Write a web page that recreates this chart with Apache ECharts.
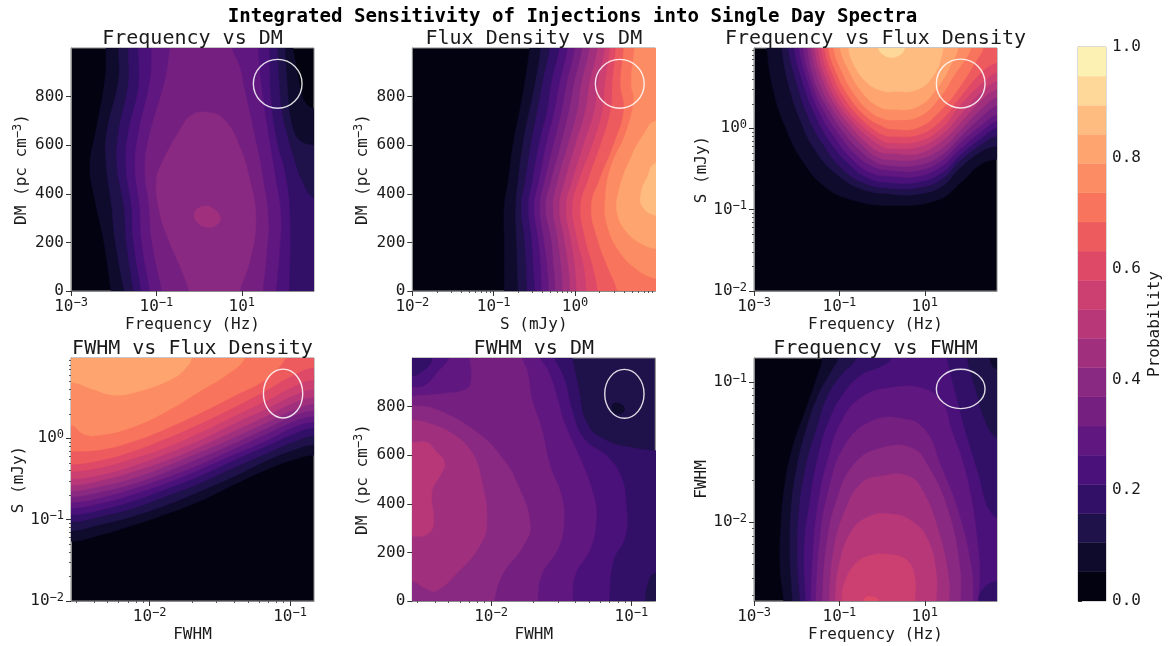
<!DOCTYPE html>
<html>
<head>
<meta charset="utf-8">
<title>Integrated Sensitivity</title>
<script src="https://cdn.jsdelivr.net/npm/echarts@6/dist/echarts.min.js"></script>
<style>
html,body{margin:0;padding:0;background:#fff}
#main{width:1172px;height:646px}
</style>
</head>
<body>
<div id="main"></div>
<script>
// contourf bands, 19 levels between 0 and 1
var bandEdges = [0,0.0526,0.1053,0.1579,0.2105,0.2632,0.3158,0.3684,0.4211,0.4737,0.5263,0.5789,0.6316,0.6842,0.7368,0.7895,0.8421,0.8947,0.9474,1];
var bandColors = ['#030211','#0f0b2c','#1f1149','#331067','#4b117a','#60177f','#752081','#8a2981','#a0307e','#b73779','#cc3f71','#df4968','#ee5b5e','#f8745c','#fc8c63','#fea46f','#febc80','#fed899','#fcf0b2'];
var barTicks = [0,0.2,0.4,0.6,0.8,1];

// tick positions
var freqTicks = [0.001,0.1,10];
var fluxTicks = [0.01,0.1,1];
var fwhmTicks = [0.01,0.1];
var dmTicks = [0,200,400,600,800];
var fluxMinor = [0.02,0.03,0.04,0.05,0.06,0.07,0.08,0.09,0.2,0.3,0.4,0.5,0.6,0.7,0.8,0.9,2,3,4,5,6,7,8,9];
var fwhmMinor = [0.003,0.004,0.005,0.006,0.007,0.008,0.009,0.02,0.03,0.04,0.05,0.06,0.07,0.08,0.09];

// injection ellipse limits, log10 for the log axes
var freqEll = [1.27,2.41];
var fluxEll = [0.25,0.85];
var fwhmEll = [-1.19,-0.91];
var dmEll = [752,953];

// Frequency vs DM: [band, [[log10 Hz, DM], ...]]
var freqDm = [
 [1,[[-2.18,1060],[-2.18,1000],[-2.20,881],[-2.40,675],[-2.56,511],[-2.44,374],[-2.24,210],[-2.06,0],[-2.0,-60],[3.2,-60],[3.2,745],[2.69,751],[2.51,771],[2.40,812],[2.28,922],[2.20,1000],[2.17,1060]]],
 [2,[[-1.89,1060],[-1.89,1000],[-1.89,867],[-2.17,648],[-2.18,525],[-2.05,347],[-1.97,210],[-1.76,0],[-1.7,-60],[3.2,-60],[3.2,600],[2.69,600],[2.40,614],[2.24,648],[2.12,730],[2.09,785],[2.01,1000],[2.0,1060]]],
 [3,[[-1.66,1060],[-1.66,1000],[-1.66,854],[-1.89,648],[-1.92,511],[-1.76,347],[-1.71,210],[-1.54,0],[-1.5,-60],[3.2,-60],[3.2,370],[2.69,381],[2.40,456],[2.28,511],[2.05,648],[1.93,744],[1.88,840],[1.83,1000],[1.82,1060]]],
 [4,[[-1.42,1060],[-1.42,1000],[-1.42,840],[-1.66,648],[-1.71,511],[-1.58,347],[-1.54,210],[-1.35,0],[-1.3,-60],[2.11,-60],[2.11,0],[2.12,319],[2.01,484],[1.81,621],[1.67,812],[1.64,1000],[1.63,1060]]],
 [5,[[-1.11,1060],[-1.11,1000],[-1.15,867],[-1.42,648],[-1.50,511],[-1.39,347],[-1.35,210],[-1.15,0],[-1.1,-60],[1.76,-60],[1.80,0],[1.88,155],[1.91,319],[1.77,484],[1.62,648],[1.46,840],[1.38,1000],[1.35,1060]]],
 [6,[[-0.64,1060],[-0.68,1000],[-0.80,867],[-1.15,648],[-1.27,511],[-1.17,347],[-1.11,210],[-0.87,0],[-0.8,-60],[1.45,-60],[1.49,0],[1.58,155],[1.62,292],[1.50,456],[1.34,607],[1.05,840],[0.95,922],[0.76,1000],[0.7,1060]]],
 [7,[[0.17,736],[-0.18,723],[-0.45,662],[-0.84,538],[-1.00,456],[-0.92,319],[-0.68,196],[-0.41,86],[-0.23,0],[-0.15,-60],[0.9,-60],[0.95,0],[1.19,127],[1.33,292],[1.19,456],[0.92,607],[0.56,710]]],
 [8,[[0.10,349],[-0.10,326],[-0.06,285],[0.21,262],[0.45,278],[0.49,305],[0.33,340]]]
];

// Flux Density vs DM: one log10 S edge per level, read at each dmStops value
var dmStops = [1000,854,744,607,456,347,210,100,0];
var fluxDmEdges = [
 [1,[-0.56,-0.62,-0.68,-0.76,-0.82,-0.87,-0.87,-0.87,-0.87]],
 [2,[-0.42,-0.49,-0.56,-0.64,-0.70,-0.73,-0.72,-0.71,-0.70]],
 [3,[-0.31,-0.40,-0.46,-0.54,-0.61,-0.66,-0.62,-0.60,-0.59]],
 [4,[-0.19,-0.29,-0.34,-0.44,-0.52,-0.57,-0.53,-0.51,-0.49]],
 [5,[-0.09,-0.19,-0.25,-0.35,-0.44,-0.50,-0.45,-0.42,-0.41]],
 [6,[0.00,-0.10,-0.16,-0.26,-0.37,-0.43,-0.38,-0.34,-0.32]],
 [7,[0.09,-0.01,-0.07,-0.17,-0.29,-0.36,-0.29,-0.26,-0.24]],
 [8,[0.18,0.08,0.03,-0.08,-0.21,-0.27,-0.21,-0.17,-0.15]],
 [9,[0.28,0.18,0.13,0.01,-0.12,-0.19,-0.13,-0.08,-0.06]],
 [10,[0.37,0.28,0.24,0.11,-0.03,-0.11,-0.05,0.00,0.02]],
 [11,[0.43,0.37,0.34,0.22,0.05,-0.03,0.03,0.11,0.14]],
 [12,[0.50,0.46,0.44,0.32,0.16,0.07,0.13,0.22,0.28]],
 [13,[0.60,0.56,0.60,0.48,0.30,0.20,0.28,0.40,0.52]]
];
var fluxDmTop = [
 [14,[[0.74,1060],[0.73,1000],[0.69,854],[0.72,785],[0.62,648],[0.44,511],[0.37,374],[0.40,264],[0.56,155],[0.77,86],[0.98,52],[1.3,40],[1.4,1060]]],
 [15,[[1.3,705],[0.98,699],[0.85,648],[0.69,552],[0.54,415],[0.52,319],[0.65,237],[0.85,189],[0.98,175],[1.3,165]]],
 [16,[[1.3,540],[0.98,525],[0.89,470],[0.81,401],[0.83,347],[0.98,312],[1.3,300]]]
];

// Frequency vs Flux Density: [band, [[log10 Hz, log10 S], ...]]
var freqFlux = [
 [1,[[-2.72,1.3],[-2.70,0.99],[-2.55,0.47],[-2.27,0.02],[-1.88,-0.39],[-1.34,-0.72],[-0.71,-0.88],[0.22,-0.95],[1.31,-0.88],[1.86,-0.66],[2.29,-0.45],[2.69,-0.38],[3.2,-0.36],[3.2,1.3]]],
 [2,[[-2.37,1.3],[-2.35,0.99],[-2.20,0.55],[-1.92,0.10],[-1.57,-0.27],[-1.10,-0.55],[-0.48,-0.75],[0.22,-0.81],[0.85,-0.81],[1.39,-0.72],[1.82,-0.49],[2.37,-0.27],[2.69,-0.22],[3.2,-0.2],[3.2,1.3]]],
 [3,[[-2.22,1.3],[-2.20,0.99],[-2.00,0.55],[-1.73,0.14],[-1.38,-0.20],[-0.95,-0.49],[-0.40,-0.68],[0.22,-0.74],[0.85,-0.73],[1.39,-0.63],[1.82,-0.40],[2.37,-0.18],[2.69,-0.09],[3.2,-0.05],[3.2,1.3]]],
 [4,[[-2.08,1.3],[-2.06,0.99],[-1.85,0.55],[-1.59,0.19],[-1.25,-0.14],[-0.79,-0.43],[-0.33,-0.61],[0.22,-0.67],[0.85,-0.66],[1.39,-0.55],[1.82,-0.33],[2.37,-0.10],[2.69,0.01],[3.2,0.05],[3.2,1.3]]],
 [5,[[-1.97,1.3],[-1.95,0.99],[-1.73,0.55],[-1.48,0.21],[-1.13,-0.10],[-0.68,-0.39],[-0.25,-0.55],[0.22,-0.59],[0.85,-0.59],[1.39,-0.47],[1.82,-0.26],[2.37,-0.02],[2.69,0.09],[3.2,0.14],[3.2,1.3]]],
 [6,[[-1.87,1.3],[-1.85,0.99],[-1.64,0.55],[-1.38,0.23],[-1.03,-0.06],[-0.60,-0.33],[-0.17,-0.48],[0.22,-0.52],[0.85,-0.52],[1.39,-0.40],[1.82,-0.18],[2.37,0.06],[2.69,0.17],[3.2,0.22],[3.2,1.3]]],
 [7,[[-1.77,1.3],[-1.75,0.99],[-1.56,0.55],[-1.28,0.25],[-0.93,-0.03],[-0.52,-0.27],[-0.13,-0.42],[0.22,-0.46],[0.85,-0.45],[1.39,-0.33],[1.82,-0.11],[2.37,0.16],[2.69,0.28],[3.2,0.34],[3.2,1.3]]],
 [8,[[-1.69,1.3],[-1.67,0.99],[-1.47,0.57],[-1.20,0.27],[-0.83,0.00],[-0.44,-0.22],[-0.09,-0.36],[0.22,-0.39],[0.85,-0.38],[1.39,-0.25],[1.82,-0.03],[2.37,0.26],[2.69,0.38],[3.2,0.45],[3.2,1.3]]],
 [9,[[-1.61,1.3],[-1.59,0.99],[-1.39,0.60],[-1.10,0.29],[-0.74,0.03],[-0.36,-0.18],[-0.05,-0.29],[0.22,-0.31],[0.85,-0.31],[1.39,-0.16],[1.82,0.06],[2.37,0.37],[2.69,0.48],[3.2,0.55],[3.2,1.3]]],
 [10,[[-1.53,1.3],[-1.51,0.99],[-1.32,0.62],[-1.03,0.31],[-0.66,0.06],[-0.29,-0.12],[-0.01,-0.22],[0.22,-0.25],[0.85,-0.23],[1.39,-0.08],[1.82,0.16],[2.37,0.47],[2.69,0.58],[3.2,0.65],[3.2,1.3]]],
 [11,[[-1.45,1.3],[-1.43,0.99],[-1.24,0.64],[-0.95,0.33],[-0.57,0.08],[-0.21,-0.08],[0.03,-0.16],[0.22,-0.18],[0.85,-0.16],[1.39,0.00],[1.82,0.28],[2.37,0.57],[2.69,0.69],[3.2,0.76],[3.2,1.3]]],
 [12,[[-1.37,1.3],[-1.35,0.99],[-1.16,0.66],[-0.86,0.35],[-0.48,0.11],[-0.13,-0.04],[0.07,-0.09],[0.22,-0.10],[0.85,-0.08],[1.39,0.10],[1.82,0.38],[2.37,0.71],[2.69,0.81],[3.2,0.88],[3.2,1.3]]],
 [13,[[-1.28,1.3],[-1.26,0.99],[-1.07,0.68],[-0.75,0.37],[-0.36,0.14],[-0.01,0.03],[0.22,-0.01],[0.85,0.01],[1.39,0.23],[1.82,0.51],[2.17,0.80],[2.37,0.99],[2.42,1.3]]],
 [14,[[-1.16,1.3],[-1.14,0.99],[-0.95,0.70],[-0.64,0.41],[-0.25,0.19],[0.07,0.11],[0.22,0.10],[0.85,0.14],[1.31,0.35],[1.70,0.66],[2.09,0.99],[2.15,1.3]]],
 [15,[[-1.01,1.3],[-0.99,0.99],[-0.79,0.72],[-0.48,0.45],[-0.13,0.28],[0.22,0.23],[0.85,0.27],[1.31,0.51],[1.63,0.80],[1.78,0.99],[1.82,1.3]]],
 [16,[[-0.81,1.3],[-0.79,0.99],[-0.64,0.76],[-0.33,0.55],[-0.01,0.46],[0.22,0.45],[0.85,0.48],[1.24,0.68],[1.39,0.88],[1.43,0.99],[1.44,1.3]]],
 [17,[[-0.09,1.1],[-0.09,0.99],[-0.01,0.92],[0.22,0.87],[0.46,0.92],[0.53,0.99],[0.53,1.1]]]
];

// FWHM vs Flux Density: one log10 S edge per level at each fwhmStops value
var fwhmStops = [-2.56,-2.35,-2.12,-1.88,-1.64,-1.40,-1.16,-0.97,-0.83];
var fwhmFluxEdges = [
 [1,[-1.27,-1.19,-1.07,-0.93,-0.77,-0.57,-0.38,-0.26,-0.21]],
 [2,[-1.14,-1.06,-0.96,-0.82,-0.65,-0.47,-0.27,-0.14,-0.08]],
 [3,[-1.03,-0.96,-0.86,-0.71,-0.55,-0.36,-0.18,-0.04,0.03]],
 [4,[-0.94,-0.88,-0.77,-0.62,-0.46,-0.27,-0.09,0.06,0.13]],
 [5,[-0.86,-0.80,-0.69,-0.55,-0.38,-0.20,-0.02,0.14,0.20]],
 [6,[-0.79,-0.73,-0.62,-0.48,-0.32,-0.13,0.06,0.21,0.27]],
 [7,[-0.72,-0.66,-0.56,-0.41,-0.24,-0.06,0.13,0.28,0.34]],
 [8,[-0.65,-0.59,-0.49,-0.34,-0.17,0.01,0.20,0.35,0.42]],
 [9,[-0.58,-0.52,-0.41,-0.27,-0.10,0.09,0.28,0.44,0.50]],
 [10,[-0.50,-0.45,-0.34,-0.19,-0.02,0.18,0.37,0.53,0.60]],
 [11,[-0.41,-0.36,-0.25,-0.11,0.07,0.27,0.47,0.64,0.72]],
 [12,[-0.32,-0.27,-0.16,0.00,0.18,0.38,0.60,0.78,0.87]]
];
var fwhmFluxTop = [
 [13,[[-3,-0.16],[-2.56,-0.16],[-2.35,-0.14],[-2.12,-0.04],[-1.88,0.12],[-1.64,0.31],[-1.40,0.52],[-1.16,0.74],[-1.03,0.99],[-0.95,1.3],[-3,1.3]]],
 [14,[[-3,0.2],[-2.56,0.16],[-2.47,0.05],[-2.35,0.04],[-2.12,0.14],[-1.88,0.33],[-1.64,0.58],[-1.45,0.78],[-1.32,0.99],[-1.28,1.3],[-3,1.3]]],
 [15,[[-3,0.72],[-2.56,0.69],[-2.40,0.60],[-2.25,0.53],[-2.07,0.58],[-1.83,0.74],[-1.74,0.87],[-1.70,0.99],[-1.68,1.3],[-3,1.3]]]
];

// FWHM vs DM: [band, [[log10 FWHM, DM], ...]]
var fwhmDm = [
 [3,[[-1.44,1060],[-1.42,1000],[-1.38,889],[-1.31,725],[-1.16,656],[-0.97,629],[-0.83,619],[-0.5,610],[-0.5,-60],[-3,-60],[-3,1060]]],
 [4,[[-1.57,1060],[-1.55,1000],[-1.48,917],[-1.42,780],[-1.34,670],[-1.16,588],[-1.07,506],[-1.04,410],[-1.04,273],[-1.13,163],[-1.16,0],[-1.17,-60],[-3,-60],[-3,1060]]],
 [5,[[-1.67,1060],[-1.65,1000],[-1.59,944],[-1.52,821],[-1.48,738],[-1.36,581],[-1.27,437],[-1.25,341],[-1.29,218],[-1.40,108],[-1.42,0],[-1.43,-60],[-3,-60],[-3,1060]]],
 [6,[[-3,840],[-2.56,844],[-2.33,855],[-2.17,875],[-2.14,917],[-2.15,1000],[-2.15,1060],[-1.80,1060],[-1.78,1000],[-1.74,944],[-1.71,834],[-1.64,711],[-1.58,560],[-1.50,437],[-1.48,327],[-1.52,218],[-1.64,108],[-1.67,0],[-1.68,-60],[-3,-60]]],
 [7,[[-3,810],[-2.56,804],[-2.38,786],[-2.09,690],[-1.92,588],[-1.82,492],[-1.72,314],[-1.78,218],[-1.92,108],[-1.98,0],[-2.0,-60],[-3,-60]]],
 [8,[[-3,750],[-2.56,745],[-2.45,732],[-2.28,690],[-2.14,615],[-2.07,506],[-2.03,314],[-2.09,218],[-2.23,122],[-2.39,42],[-2.47,53],[-2.56,81],[-3,100]]],
 [9,[[-3,653],[-2.56,653],[-2.46,653],[-2.39,615],[-2.33,567],[-2.36,519],[-2.42,451],[-2.41,314],[-2.46,273],[-2.56,266],[-3,266]]],
 [4,[[-3,880],[-2.56,882],[-2.47,889],[-2.38,944],[-2.30,1000],[-2.28,1060],[-3,1060]]],
 [3,[[-3,925],[-2.56,927],[-2.49,944],[-2.43,978],[-2.42,1000],[-2.41,1060],[-3,1060]]],
 [2,[[-0.91,-60],[-0.90,0],[-0.89,53],[-0.83,115],[-0.5,130],[-0.5,-60]]],
 [1,[[-1.14,796],[-1.13,811],[-1.09,814],[-1.05,796],[-1.06,777],[-1.10,771],[-1.13,780]]]
];

// Frequency vs FWHM: [band, [[log10 Hz, log10 FWHM], ...]]
var freqFwhm = [
 [1,[[-1.37,-0.6],[-1.40,-0.83],[-1.53,-0.97],[-1.77,-1.18],[-2.08,-1.45],[-2.27,-1.71],[-2.37,-2.02],[-2.39,-2.32],[-2.31,-2.56],[-2.28,-2.8],[3.2,-2.8],[3.2,-0.6]]],
 [2,[[-0.98,-0.6],[-1.03,-0.83],[-1.18,-0.92],[-1.49,-1.09],[-1.77,-1.33],[-2.00,-1.61],[-2.13,-1.90],[-2.16,-2.21],[-2.10,-2.56],[-2.08,-2.8],[3.2,-2.8],[3.2,-0.91],[2.69,-0.91],[2.58,-0.89],[2.52,-0.83],[2.5,-0.6]]],
 [3,[[-0.5,-0.6],[-0.60,-0.83],[-0.95,-0.95],[-1.26,-1.09],[-1.53,-1.33],[-1.79,-1.61],[-1.95,-1.94],[-1.98,-2.28],[-1.92,-2.56],[-1.90,-2.8],[3.2,-2.8],[3.2,-1.42],[2.69,-1.40],[2.41,-1.28],[2.17,-1.04],[1.98,-0.83],[1.9,-0.6]]],
 [4,[[0.35,-0.6],[0.22,-0.83],[-0.01,-0.89],[-0.48,-0.95],[-0.87,-1.07],[-1.22,-1.26],[-1.49,-1.52],[-1.69,-1.85],[-1.82,-2.18],[-1.79,-2.56],[-1.77,-2.8],[3.2,-2.8],[3.2,-2.0],[2.69,-1.97],[2.52,-1.92],[2.41,-1.85],[2.25,-1.66],[1.94,-1.35],[1.70,-1.07],[1.51,-0.83],[1.4,-0.6]]],
 [5,[[-1.67,-2.8],[-1.67,-2.56],[-1.61,-2.18],[-1.49,-1.85],[-1.26,-1.54],[-0.95,-1.28],[-0.48,-1.11],[0.22,-1.04],[1.00,-1.05],[1.43,-1.16],[1.63,-1.35],[1.86,-1.54],[2.09,-1.83],[2.23,-2.13],[2.29,-2.37],[2.25,-2.56],[2.23,-2.8]]],
 [6,[[-1.55,-2.8],[-1.55,-2.56],[-1.46,-2.13],[-1.26,-1.78],[-0.87,-1.45],[-0.25,-1.28],[0.46,-1.26],[1.00,-1.34],[1.39,-1.61],[1.78,-1.92],[2.09,-2.32],[2.13,-2.56],[2.13,-2.8]]],
 [7,[[-1.40,-2.8],[-1.40,-2.56],[-1.30,-2.16],[-1.07,-1.85],[-0.64,-1.58],[-0.01,-1.47],[0.69,-1.47],[1.08,-1.60],[1.55,-1.92],[1.82,-2.32],[1.84,-2.56],[1.84,-2.8]]],
 [8,[[-1.24,-2.8],[-1.24,-2.56],[-1.14,-2.21],[-0.87,-1.92],[-0.48,-1.72],[-0.01,-1.67],[0.61,-1.67],[0.96,-1.78],[1.35,-2.09],[1.57,-2.42],[1.57,-2.56],[1.57,-2.8]]],
 [9,[[-1.10,-2.8],[-1.10,-2.56],[-0.99,-2.28],[-0.71,-2.06],[-0.32,-1.96],[0.14,-1.94],[0.69,-1.99],[1.08,-2.13],[1.27,-2.37],[1.27,-2.56],[1.27,-2.8]]],
 [10,[[-0.95,-2.8],[-0.95,-2.56],[-0.87,-2.42],[-0.64,-2.30],[-0.32,-2.24],[0.22,-2.23],[0.61,-2.28],[0.77,-2.40],[0.77,-2.56],[0.77,-2.8]]],
 [11,[[-0.44,-2.7],[-0.44,-2.56],[-0.36,-2.53],[-0.25,-2.53],[-0.13,-2.54],[-0.08,-2.56],[-0.08,-2.7]]],
 [3,[[2.25,-2.8],[2.25,-2.56],[2.41,-2.46],[2.69,-2.42],[3.2,-2.4],[3.2,-2.8]]]
];

// the edge tables close against the right side or the top of their panel
function closeRight(row) {
  var pts = [[row[1][0], 1060]];
  row[1].forEach(function (x, i) { pts.push([x, dmStops[i]]); });
  pts.push([row[1][8], -60], [1.4, -60], [1.4, 1060]);
  return [row[0], pts];
}
function closeTop(row) {
  var pts = [[-3, row[1][0]]];
  row[1].forEach(function (y, i) { pts.push([fwhmStops[i], y]); });
  pts.push([-0.5, row[1][8]], [-0.5, 1.3], [-3, 1.3]);
  return [row[0], pts];
}
var fluxDm = fluxDmEdges.map(closeRight).concat(fluxDmTop);
var fwhmFlux = fwhmFluxEdges.map(closeTop).concat(fwhmFluxTop);

var mono = 'DejaVu Sans Mono';
var ink = '#1a1a1a';
var spine = '#8c8c8c';

var axes = {
  freq: {log: true, min: 0.001, max: 490, ticks: freqTicks, minor: [], name: 'Frequency (Hz)', ell: freqEll},
  flux: {log: true, min: 0.01, max: 9.7, ticks: fluxTicks, minor: fluxMinor, name: 'S (mJy)', ell: fluxEll},
  fwhm: {log: true, min: 0.00275, max: 0.148, ticks: fwhmTicks, minor: fwhmMinor, name: 'FWHM', ell: fwhmEll},
  dm: {log: false, min: 0, max: 1000, ticks: dmTicks, minor: [], name: '{n|DM (pc cm}{s|\u22123}{n|)}', ell: dmEll}
};

var panels = [
  {title: 'Frequency vs DM', x: 'freq', y: 'dm', left: 71, top: 48, base: 0, data: freqDm},
  {title: 'Flux Density vs DM', x: 'flux', y: 'dm', left: 412.3, top: 48, base: 0, data: fluxDm},
  {title: 'Frequency vs Flux Density', x: 'freq', y: 'flux', left: 754, top: 48, base: 0, data: freqFlux},
  {title: 'FWHM vs Flux Density', x: 'fwhm', y: 'flux', left: 71, top: 358, base: 0, data: fwhmFlux},
  {title: 'FWHM vs DM', x: 'fwhm', y: 'dm', left: 412.3, top: 358, base: 2, data: fwhmDm},
  {title: 'Frequency vs FWHM', x: 'freq', y: 'fwhm', left: 754, top: 358, base: 0, data: freqFwhm}
];
var side = 243;

var richText = {
  n: {fontFamily: mono, fontSize: 16, color: ink},
  b: {fontFamily: mono, fontSize: 16, color: ink},
  s: {fontFamily: mono, fontSize: 12, color: ink, verticalAlign: 'bottom', padding: [0, 0, 7, 0]}
};

function tickText(spec) {
  return function (v) {
    if (!spec.log) return String(v);
    var p = Math.round(Math.log(v) / Math.LN10);
    return '{b|10}{s|' + String(p).replace('-', '\u2212') + '}';
  };
}

function mainAxis(spec, gridIndex, pos, gap) {
  return {
    type: spec.log ? 'log' : 'value', logBase: 10, gridIndex: gridIndex, position: pos,
    min: spec.min, max: spec.max,
    name: spec.name, nameLocation: 'middle', nameGap: gap,
    nameTextStyle: {fontFamily: mono, fontSize: 16, color: ink, rich: richText},
    axisLine: {show: true, onZero: false, lineStyle: {color: spine}},
    axisTick: {show: true, length: 5, customValues: spec.ticks, lineStyle: {color: '#333'}},
    minorTick: {show: false}, splitLine: {show: false},
    axisLabel: {show: true, margin: pos === 'left' ? 7 : 6, customValues: spec.ticks, hideOverlap: false, showMinLabel: true, showMaxLabel: true,
      formatter: tickText(spec), fontFamily: mono, fontSize: 16, color: ink, rich: richText}
  };
}
function minorAxis(spec, gridIndex, pos) {
  return {
    type: 'log', logBase: 10, gridIndex: gridIndex, position: pos, min: spec.min, max: spec.max,
    axisLine: {show: false}, splitLine: {show: false}, minorTick: {show: false},
    axisTick: {show: true, length: 2, customValues: spec.minor, lineStyle: {color: '#555'}},
    axisLabel: {show: false}
  };
}
function dataValue(spec, v) { return spec.log ? Math.pow(10, v) : v; }

var option = {
  animation: false,
  backgroundColor: '#fff',
  title: [{text: 'Integrated Sensitivity of Injections into Single Day Spectra', left: 572.5, top: 8, padding: 0, textAlign: 'center',
    textStyle: {fontFamily: mono, fontWeight: 'bold', fontSize: 19.1, color: '#000'}}],
  grid: [], xAxis: [], yAxis: [], series: []
};

panels.forEach(function (p, i) {
  var xs = axes[p.x], ys = axes[p.y];
  option.title.push({text: p.title, left: p.left + side / 2, top: p.top - 19, padding: 0, textAlign: 'center',
    textStyle: {fontFamily: mono, fontWeight: 'normal', fontSize: 20, color: ink}});
  option.grid.push({left: p.left, top: p.top, width: side, height: side, show: true, z: 0,
    backgroundColor: bandColors[p.base], borderColor: spine, borderWidth: 1, containLabel: false});
  var xMain = option.xAxis.length, yMain = option.yAxis.length;
  option.xAxis.push(mainAxis(xs, i, 'bottom', 26));
  option.yAxis.push(mainAxis(ys, i, 'left', 40));
  if (xs.minor.length) option.xAxis.push(minorAxis(xs, i, 'bottom'));
  if (ys.minor.length) option.yAxis.push(minorAxis(ys, i, 'left'));

  option.series.push({
    type: 'custom', xAxisIndex: xMain, yAxisIndex: yMain, clip: true, silent: true,
    data: p.data.map(function (c, k) { return [xs.min, ys.min, k]; }),
    encode: {x: 0, y: 1},
    renderItem: function (params, api) {
      var c = p.data[params.dataIndex];
      return {
        type: 'polygon',
        shape: {points: c[1].map(function (q) { return api.coord([dataValue(xs, q[0]), dataValue(ys, q[1])]); }), smooth: 0.45},
        style: {fill: bandColors[c[0]], stroke: bandColors[c[0]], lineWidth: 0.4}
      };
    }
  });
  option.series.push({
    type: 'custom', xAxisIndex: xMain, yAxisIndex: yMain, clip: true, silent: true, z: 5,
    data: [[dataValue(xs, xs.ell[0]), dataValue(ys, ys.ell[0]), dataValue(xs, xs.ell[1]), dataValue(ys, ys.ell[1])]],
    encode: {x: [0, 2], y: [1, 3]},
    renderItem: function (params, api) {
      var a = api.coord([api.value(0), api.value(1)]), b = api.coord([api.value(2), api.value(3)]);
      return {
        type: 'ellipse',
        shape: {cx: (a[0] + b[0]) / 2, cy: (a[1] + b[1]) / 2, rx: Math.abs(b[0] - a[0]) / 2, ry: Math.abs(b[1] - a[1]) / 2},
        style: {fill: 'none', stroke: 'rgba(255,255,255,0.85)', lineWidth: 1.4}
      };
    }
  });
});

// colour bar
var barGrid = option.grid.length;
option.grid.push({left: 1078, top: 47, width: 28, height: 554, show: true, borderColor: '#b5b5b5', borderWidth: 1});
var barX = option.xAxis.length, barY = option.yAxis.length;
option.xAxis.push({type: 'value', gridIndex: barGrid, min: 0, max: 1, show: false});
option.yAxis.push({
  type: 'value', gridIndex: barGrid, position: 'right', min: 0, max: 1,
  name: 'Probability', nameLocation: 'middle', nameGap: 41, nameRotate: 90,
  nameTextStyle: {fontFamily: mono, fontSize: 16, color: ink},
  axisLine: {show: true, lineStyle: {color: '#b5b5b5'}},
  axisTick: {show: true, length: 4, customValues: barTicks, lineStyle: {color: '#333'}},
  splitLine: {show: false},
  axisLabel: {margin: 6, customValues: barTicks, fontFamily: mono, fontSize: 16, color: ink, showMaxLabel: true, showMinLabel: true,
    formatter: function (v) { return v.toFixed(1); }}
});
option.series.push({
  type: 'custom', xAxisIndex: barX, yAxisIndex: barY, clip: true, silent: true,
  data: bandColors.map(function (c, i) { return [0, bandEdges[i], 1, bandEdges[i + 1]]; }),
  encode: {x: [0, 2], y: [1, 3]},
  renderItem: function (params, api) {
    var a = api.coord([api.value(0), api.value(1)]), b = api.coord([api.value(2), api.value(3)]);
    return {type: 'rect', shape: {x: a[0], y: b[1], width: b[0] - a[0], height: a[1] - b[1]},
      style: {fill: bandColors[params.dataIndex], stroke: bandColors[params.dataIndex], lineWidth: 0.4}};
  }
});

var chart = echarts.init(document.getElementById('main'), null, {renderer: 'canvas'});
chart.setOption(option);
</script>
</body>
</html>
